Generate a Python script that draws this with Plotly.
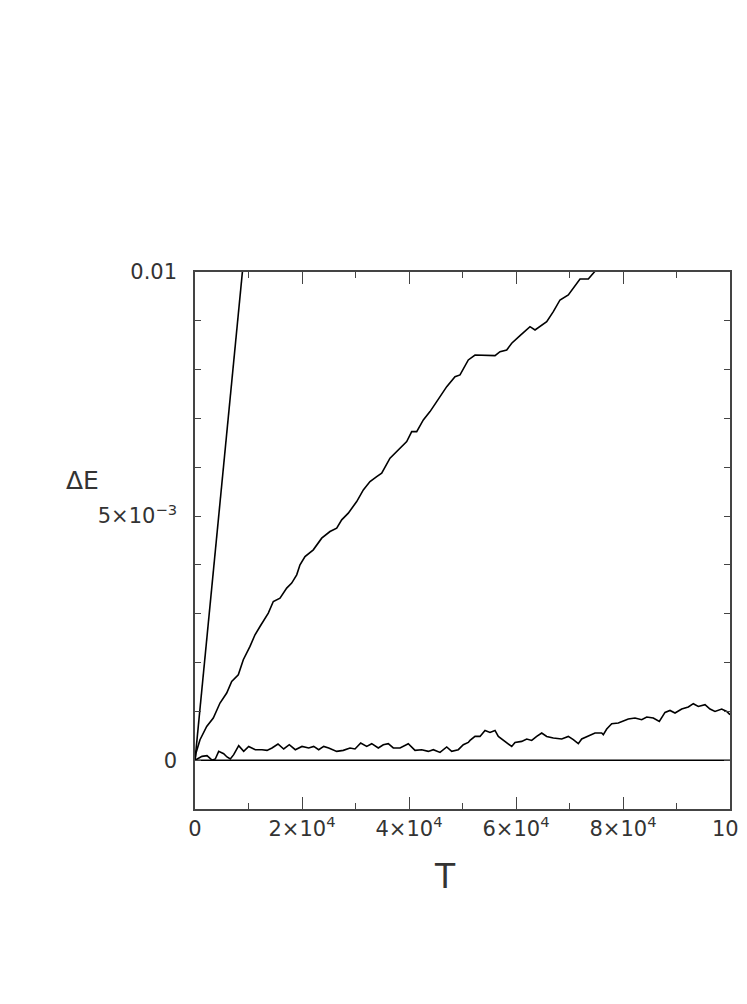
import plotly.graph_objects as go

# Steep (straight) curve
t_steep = [0, 8860]
e_steep = [0.0, 0.0100]

# Middle curve
t_mid = [0, 187, 935, 2187, 3421, 4673, 5925, 6860, 8093, 9028, 10280, 11215, 12150,
         13701, 14636, 15888, 17140, 18075, 19010, 19626, 20560, 22112, 23682, 25234,
         26486, 27421, 28655, 30225, 31459, 32711, 33963, 34898, 36449, 38001, 39571,
         40506, 41440, 42674, 43926, 45178, 46412, 47048, 48599, 49534, 51085, 52338,
         56076, 57011, 58263, 59198, 60749, 62618, 63553, 64488, 65740, 66974, 68226,
         69777, 70712, 71964, 73516, 74450, 74955]
e_mid = [0.0, 1.47e-4, 4.20e-4, 6.92e-4, 8.64e-4, 1.171e-3, 1.375e-3, 1.613e-3, 1.750e-3,
         2.057e-3, 2.330e-3, 2.569e-3, 2.739e-3, 3.013e-3, 3.251e-3, 3.320e-3, 3.525e-3,
         3.627e-3, 3.797e-3, 4.002e-3, 4.172e-3, 4.309e-3, 4.548e-3, 4.684e-3, 4.753e-3,
         4.923e-3, 5.060e-3, 5.298e-3, 5.537e-3, 5.707e-3, 5.809e-3, 5.879e-3, 6.186e-3,
         6.356e-3, 6.526e-3, 6.731e-3, 6.731e-3, 6.970e-3, 7.140e-3, 7.345e-3, 7.549e-3,
         7.652e-3, 7.856e-3, 7.891e-3, 8.198e-3, 8.300e-3, 8.286e-3, 8.368e-3, 8.403e-3,
         8.540e-3, 8.696e-3, 8.880e-3, 8.813e-3, 8.880e-3, 8.982e-3, 9.187e-3, 9.427e-3,
         9.529e-3, 9.666e-3, 9.856e-3, 9.856e-3, 9.973e-3, 1.004e-2]

# Low curve
t_low = [0, 1308, 2243, 3178, 3794, 4430, 5365, 5981, 6598, 7234, 8168, 9103, 10038,
         11271, 12524, 13458, 14393, 15514, 16580, 17627, 18748, 20000, 21253, 22187,
         23122, 24057, 24991, 26486, 27720, 28973, 29907, 30973, 32094, 33029, 34262,
         35197, 36131, 37066, 38319, 39870, 41122, 42375, 43608, 44543, 45795, 47048,
         47982, 49216, 50151, 51085, 51403, 52338, 53272, 54207, 55141, 56076, 56693,
         57945, 59198, 59814, 61067, 62001, 62936, 63871, 64805, 65740, 66974, 68544,
         69777, 70712, 71647, 72282, 73516, 74768, 76020, 76319, 76955, 77889, 79123,
         80058, 80992, 82245, 83497, 84432, 85666, 86787, 87852, 88787, 89722, 90974,
         92208, 93143, 94077, 95330, 96264, 97199, 98451, 99386, 100000]
e_low = [0.0, 7.8e-5, 9.2e-5, 0.0, 2.5e-5, 1.80e-4, 1.33e-4, 6.6e-5, 2.5e-5, 1.13e-4,
         2.97e-4, 1.80e-4, 2.82e-4, 2.15e-4, 2.15e-4, 2.01e-4, 2.50e-4, 3.32e-4, 2.29e-4,
         3.17e-4, 2.15e-4, 2.82e-4, 2.50e-4, 2.82e-4, 2.15e-4, 2.82e-4, 2.50e-4, 1.80e-4,
         2.01e-4, 2.50e-4, 2.29e-4, 3.52e-4, 2.82e-4, 3.38e-4, 2.50e-4, 3.17e-4, 3.38e-4,
         2.50e-4, 2.50e-4, 3.38e-4, 2.01e-4, 2.15e-4, 1.80e-4, 2.15e-4, 1.60e-4, 2.70e-4,
         1.80e-4, 2.15e-4, 3.17e-4, 3.64e-4, 4.05e-4, 4.87e-4, 4.87e-4, 6.10e-4, 5.69e-4,
         6.10e-4, 4.87e-4, 3.85e-4, 2.82e-4, 3.64e-4, 3.85e-4, 4.34e-4, 4.05e-4, 4.87e-4,
         5.57e-4, 4.87e-4, 4.54e-4, 4.34e-4, 4.87e-4, 4.20e-4, 3.38e-4, 4.34e-4, 4.87e-4,
         5.57e-4, 5.57e-4, 5.22e-4, 6.39e-4, 7.47e-4, 7.61e-4, 7.94e-4, 8.43e-4, 8.64e-4,
         8.29e-4, 8.84e-4, 8.64e-4, 7.94e-4, 9.78e-4, 1.019e-3, 9.66e-4, 1.048e-3,
         1.089e-3, 1.157e-3, 1.101e-3, 1.136e-3, 1.048e-3, 9.99e-4, 1.048e-3, 9.99e-4,
         9.31e-4]

# Zero reference line
t_zero = [0, 100000]
e_zero = [0.0, 0.0]

x_tickvals = [0, 20000, 40000, 60000, 80000, 100000]
x_ticktext = ["0", "2×10<sup>4</sup>", "4×10<sup>4</sup>", "6×10<sup>4</sup>",
              "8×10<sup>4</sup>", "10<sup>5</sup>"]
y_tickvals = [0.0, 0.005, 0.01]
y_ticktext = ["0", "5×10<sup>−3</sup>", "0.01"]

fig = go.Figure()
line = dict(color="black", width=1.6)
for tx, ey in [(t_zero, e_zero), (t_low, e_low), (t_mid, e_mid), (t_steep, e_steep)]:
    fig.add_trace(go.Scatter(x=tx, y=ey, mode="lines", line=line, showlegend=False,
                             hoverinfo="skip"))

axis_color = "#444444"
tick_font = dict(family="DejaVu Sans", size=21, color="#333333")

fig.update_xaxes(
    range=[0, 100000], tickmode="array", tickvals=x_tickvals, ticktext=x_ticktext,
    ticks="inside", ticklen=12, tickwidth=1.3, tickcolor=axis_color,
    minor=dict(dtick=10000, tick0=0, ticks="inside", ticklen=6, tickwidth=1.3,
               tickcolor=axis_color),
    showline=True, linecolor=axis_color, linewidth=1.5, mirror="ticks",
    showgrid=False, zeroline=False, tickfont=tick_font, ticklabeloverflow="allow",
    automargin=False,
)
fig.update_yaxes(
    range=[-0.001, 0.01], tickmode="array", tickvals=y_tickvals, ticktext=y_ticktext,
    ticks="inside", ticklen=6, tickwidth=1.3, tickcolor=axis_color,
    minor=dict(dtick=0.001, tick0=0, ticks="inside", ticklen=6, tickwidth=1.3,
               tickcolor=axis_color),
    showline=True, linecolor=axis_color, linewidth=1.5, mirror="ticks",
    showgrid=False, zeroline=False, tickfont=tick_font, ticklabelstandoff=12,
    ticklabeloverflow="allow", automargin=False,
)

fig.add_annotation(text="T", xref="paper", yref="paper", x=0.467, y=-0.125,
                   showarrow=False, xanchor="center", yanchor="middle",
                   font=dict(family="DejaVu Sans", size=33, color="#333333"))
fig.add_annotation(text="ΔE", xref="paper", yref="paper", x=-0.211, y=0.611,
                   showarrow=False, xanchor="center", yanchor="middle",
                   font=dict(family="DejaVu Sans", size=25, color="#333333"))

fig.update_layout(
    width=739, height=996,
    margin=dict(l=187, r=17, t=264, b=195, autoexpand=False),
    plot_bgcolor="white", paper_bgcolor="white",
)

fig.write_html("out.html")
